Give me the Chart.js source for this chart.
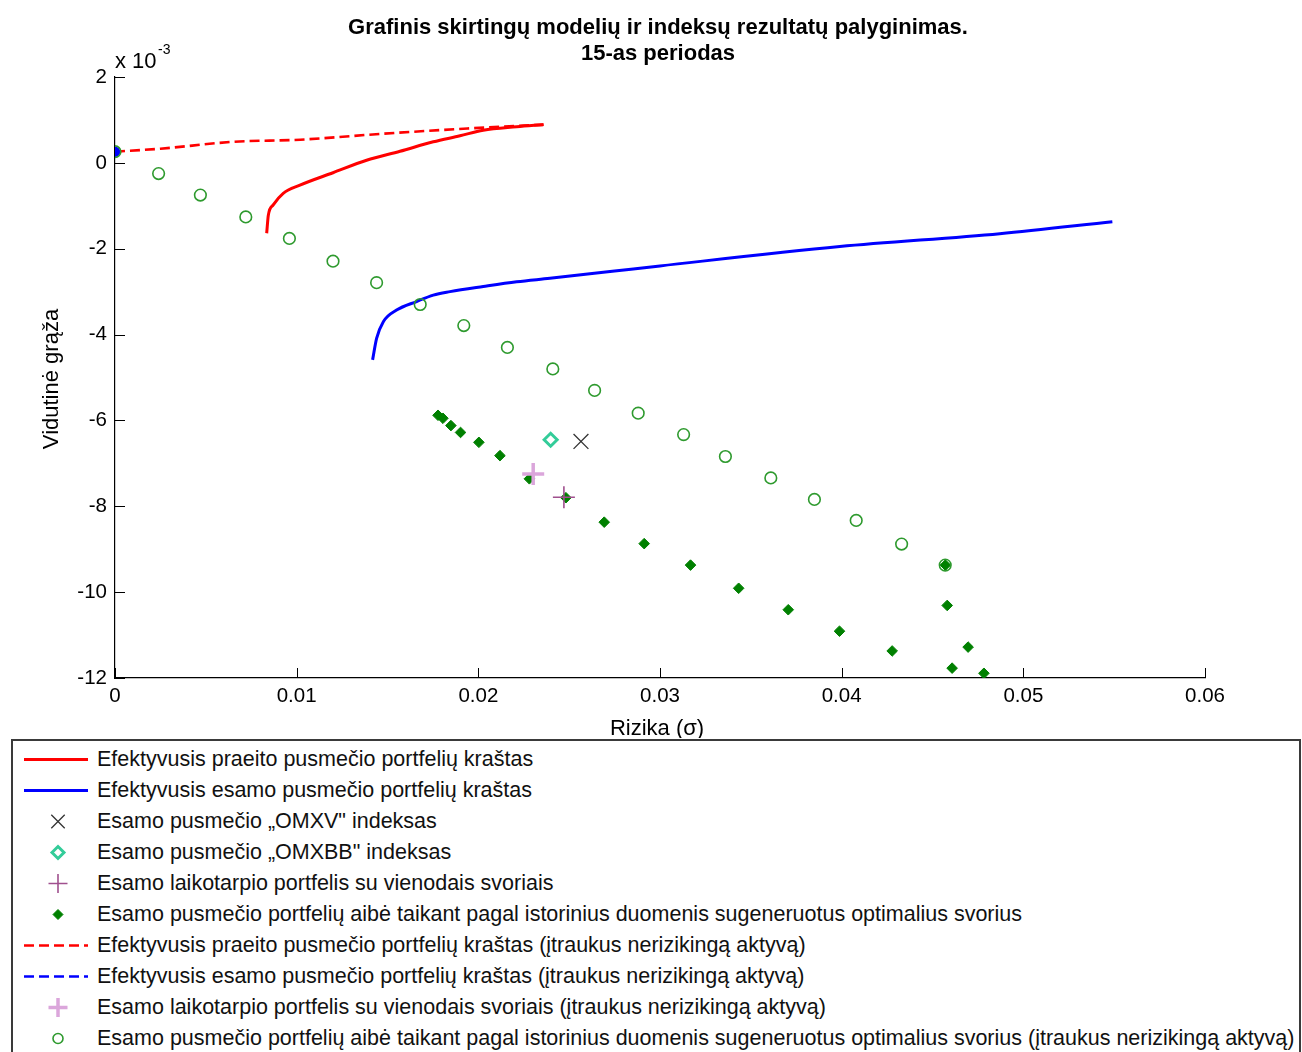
<!DOCTYPE html>
<html>
<head>
<meta charset="utf-8">
<script src="https://cdn.jsdelivr.net/npm/chart.js@4.4.1/dist/chart.umd.min.js"></script>
<style>
  html, body { margin: 0; padding: 0; background: #fff; overflow: hidden; }
  body { width: 1302px; height: 1052px; position: relative; font-family: "Liberation Sans", Arial, sans-serif; }
  #plot { position: absolute; left: 0; top: 0; }
  #legend { position: absolute; left: 11px; top: 739px; width: 1290px; height: 340px;
            border: 2px solid #3a3a3a; box-sizing: border-box; }
  .row { position: absolute; left: 0; height: 31px; line-height: 31px; white-space: nowrap; }
  .row canvas { position: absolute; left: 10px; top: 0; }
  .row span { position: absolute; left: 84px; top: 0; font-size: 21.5px; color: #111; }
</style>
</head>
<body>
<canvas id="plot" width="1302" height="738"></canvas>
<div id="legend"></div>
<script>
// y values are in units of 10^-3, as on the axis
const seriesNames = [
  'Efektyvusis praeito pusmečio portfelių kraštas',
  'Efektyvusis esamo pusmečio portfelių kraštas',
  'Esamo pusmečio „OMXV" indeksas',
  'Esamo pusmečio „OMXBB" indeksas',
  'Esamo laikotarpio portfelis su vienodais svoriais',
  'Esamo pusmečio portfelių aibė taikant pagal istorinius duomenis sugeneruotus optimalius svorius',
  'Efektyvusis praeito pusmečio portfelių kraštas (įtraukus nerizikingą aktyvą)',
  'Efektyvusis esamo pusmečio portfelių kraštas (įtraukus nerizikingą aktyvą)',
  'Esamo laikotarpio portfelis su vienodais svoriais (įtraukus nerizikingą aktyvą)',
  'Esamo pusmečio portfelių aibė taikant pagal istorinius duomenis sugeneruotus optimalius svorius (įtraukus nerizikingą aktyvą)'
];

const pastFrontierX = [0.00835, 0.00844, 0.00871, 0.00926, 0.01018, 0.0120, 0.01385, 0.01569, 0.01752, 0.01899, 0.02027, 0.02211, 0.02357];
const pastFrontierY = [-1.64, -1.22, -0.98, -0.71, -0.52, -0.23, 0.06, 0.27, 0.49, 0.63, 0.76, 0.84, 0.89];

const curFrontierX = [0.01418, 0.0144, 0.01477, 0.0155, 0.0166, 0.01752, 0.01844, 0.02027, 0.02211, 0.02394, 0.0275, 0.030, 0.0399, 0.0487, 0.0549];
const curFrontierY = [-4.59, -4.09, -3.70, -3.43, -3.23, -3.08, -3.00, -2.88, -2.77, -2.69, -2.52, -2.40, -1.95, -1.65, -1.37];

const omxvX = [0.02565];
const omxvY = [-6.49];
const omxbbX = [0.02398];
const omxbbY = [-6.45];

const equalX = [0.02471];
const equalY = [-7.79];

const histX = [0.01778, 0.01805, 0.01849, 0.01902, 0.02003, 0.02119, 0.02281, 0.02482, 0.02693, 0.02913, 0.03168, 0.03433, 0.03706, 0.03988, 0.04278, 0.04571, 0.04581, 0.04696, 0.04608, 0.04783];
const histY = [-5.88, -5.95, -6.12, -6.28, -6.51, -6.82, -7.36, -7.80, -8.37, -8.87, -9.37, -9.91, -10.41, -10.91, -11.37, -9.37, -10.31, -11.28, -11.77, -11.89];

const pastCmlX = [0, 0.0025, 0.0065, 0.0102, 0.0148, 0.0194, 0.0236];
const pastCmlY = [0.26, 0.33, 0.49, 0.54, 0.68, 0.80, 0.89];

const curCmlX = [0];
const curCmlY = [0.26];

const equalRfX = [0.02302];
const equalRfY = [-7.25];

const histRfX = [0, 0.0024, 0.0047, 0.0072, 0.0096, 0.0120, 0.0144, 0.0168, 0.0192, 0.0216, 0.0241, 0.0264, 0.0288, 0.0313, 0.0336, 0.0361, 0.0385, 0.0408, 0.0433, 0.0457];
const histRfY = [0.26, -0.25, -0.75, -1.26, -1.76, -2.29, -2.79, -3.30, -3.79, -4.30, -4.80, -5.30, -5.83, -6.33, -6.84, -7.34, -7.84, -8.33, -8.88, -9.37];

const xTicks = [0, 0.01, 0.02, 0.03, 0.04, 0.05, 0.06];
const yTicks = [2, 0, -2, -4, -6, -8, -10, -12];

const pts = (xs, ys) => xs.map((x, i) => ({ x, y: ys[i] }));
const FONT = '"Liberation Sans", Arial, sans-serif';

function lineSet(label, xs, ys, color, dash, order) {
  return {
    label, data: pts(xs, ys), showLine: true, borderColor: color, backgroundColor: color,
    borderWidth: dash ? 2.6 : 3, borderDash: dash ? [10, 5] : [], pointRadius: 0,
    cubicInterpolationMode: 'monotone', order,
  };
}
function markSet(label, xs, ys, style, radius, stroke, fill, width, order) {
  return {
    label, data: pts(xs, ys), showLine: false, pointStyle: style, pointRadius: radius,
    borderColor: stroke, backgroundColor: fill, pointBorderWidth: width, borderWidth: width, order,
  };
}

const datasets = [
  lineSet(seriesNames[0], pastFrontierX, pastFrontierY, '#ff0000', false, 10),
  lineSet(seriesNames[1], curFrontierX, curFrontierY, '#0000ff', false, 9),
  markSet(seriesNames[2], omxvX, omxvY, 'crossRot', 10.5, '#333333', '#333333', 1.3, 8),
  markSet(seriesNames[3], omxbbX, omxbbY, 'rectRot', 6.5, '#33cc99', '#ffffff', 3, 7),
  markSet(seriesNames[4], equalX, equalY, 'cross', 11, '#a0508e', '#a0508e', 1.6, 5),
  markSet(seriesNames[5], histX, histY, 'rectRot', 5.3, '#008000', '#008000', 1, 6),
  lineSet(seriesNames[6], pastCmlX, pastCmlY, '#ff0000', true, 4),
  Object.assign(lineSet(seriesNames[7], curCmlX, curCmlY, '#0000ff', true, 3), { pointRadius: 4 }),
  markSet(seriesNames[8], equalRfX, equalRfY, 'cross', 11, '#dba6db', '#dba6db', 3.5, 1),
  markSet(seriesNames[9], histRfX, histRfY, 'circle', 5.8, '#2e9a2e', 'rgba(0,0,0,0)', 1.6, 0),
];

const decor = {
  id: 'decor',
  afterDraw(chart) {
    const { ctx, chartArea: a, scales } = chart;
    ctx.save();
    ctx.strokeStyle = '#000';
    ctx.lineWidth = 1;
    xTicks.forEach((v) => {
      const px = Math.round(scales.x.getPixelForValue(v)) + 0.5;
      ctx.beginPath(); ctx.moveTo(px, a.bottom); ctx.lineTo(px, a.bottom - 10); ctx.stroke();
    });
    yTicks.forEach((v) => {
      const py = Math.round(scales.y.getPixelForValue(v)) + 0.5;
      ctx.beginPath(); ctx.moveTo(a.left, py); ctx.lineTo(a.left + 10, py); ctx.stroke();
    });
    ctx.fillStyle = '#000';
    ctx.textAlign = 'center';
    ctx.textBaseline = 'alphabetic';
    ctx.font = 'bold 22px ' + FONT;
    ctx.fillText('Grafinis skirtingų modelių ir indeksų rezultatų palyginimas.', 658, 34);
    ctx.fillText('15-as periodas', 658, 60);
    ctx.font = '22px ' + FONT;
    ctx.fillText('Rizika (σ)', 657, 735);
    ctx.textAlign = 'left';
    ctx.fillText('x 10', 115, 68);
    ctx.font = '14px ' + FONT;
    ctx.fillText('-3', 158, 54);
    ctx.translate(58, 379);
    ctx.rotate(-Math.PI / 2);
    ctx.textAlign = 'center';
    ctx.font = '22px ' + FONT;
    ctx.fillText('Vidutinė grąža', 0, 0);
    ctx.restore();
  },
};

new Chart(document.getElementById('plot'), {
  type: 'scatter',
  data: { datasets },
  options: {
    responsive: false, animation: false, devicePixelRatio: 1, events: [],
    layout: { padding: { left: 0, top: 77, right: 97, bottom: 0 } },
    plugins: { legend: { display: false }, tooltip: { enabled: false } },
    scales: {
      x: {
        type: 'linear', min: 0, max: 0.06,
        afterBuildTicks: (s) => { s.ticks = xTicks.map((v) => ({ value: v })); },
        afterFit: (s) => { s.height = 60; },
        grid: { display: true, drawOnChartArea: false, drawTicks: false },
        border: { display: true, color: '#000', width: 1.2 },
        ticks: { color: '#000', padding: 6, maxRotation: 0, font: { family: FONT, size: 20.5 },
                 callback: (v) => (v === 0 ? '0' : v.toFixed(2)) },
      },
      y: {
        type: 'linear', min: -12, max: 2,
        afterBuildTicks: (s) => { s.ticks = yTicks.map((v) => ({ value: v })); },
        afterFit: (s) => { s.width = 115; },
        grid: { display: true, drawOnChartArea: false, drawTicks: false },
        border: { display: true, color: '#000', width: 1.2 },
        ticks: { color: '#000', padding: 8, font: { family: FONT, size: 20.5 },
                 callback: (v) => String(v) },
      },
    },
  },
  plugins: [decor],
});

// legend box below the axes, MATLAB style
const legend = document.getElementById('legend');
datasets.forEach((d, i) => {
  const row = document.createElement('div');
  row.className = 'row';
  row.style.top = (3 + 31 * i) + 'px';
  row.style.width = '1286px';
  const c = document.createElement('canvas');
  c.width = 68; c.height = 31;
  const g = c.getContext('2d');
  g.strokeStyle = d.borderColor;
  g.fillStyle = d.backgroundColor;
  g.lineWidth = d.borderWidth;
  if (d.showLine) {
    g.setLineDash(d.borderDash);
    g.beginPath(); g.moveTo(1, 15.5); g.lineTo(65, 15.5); g.stroke();
  } else {
    let r = Math.min(d.pointRadius, 9.5);
    if (d.pointStyle === 'circle') r = 5;
    if (d.pointStyle === 'rectRot') r = d.pointRadius < 6 ? 5 : 6;
    Chart.helpers.drawPoint(g, { pointStyle: d.pointStyle, radius: r, borderWidth: d.borderWidth, rotation: 0 }, 35, 15.5);
  }
  const s = document.createElement('span');
  s.textContent = d.label;
  row.appendChild(c);
  row.appendChild(s);
  legend.appendChild(row);
});
</script>
</body>
</html>
